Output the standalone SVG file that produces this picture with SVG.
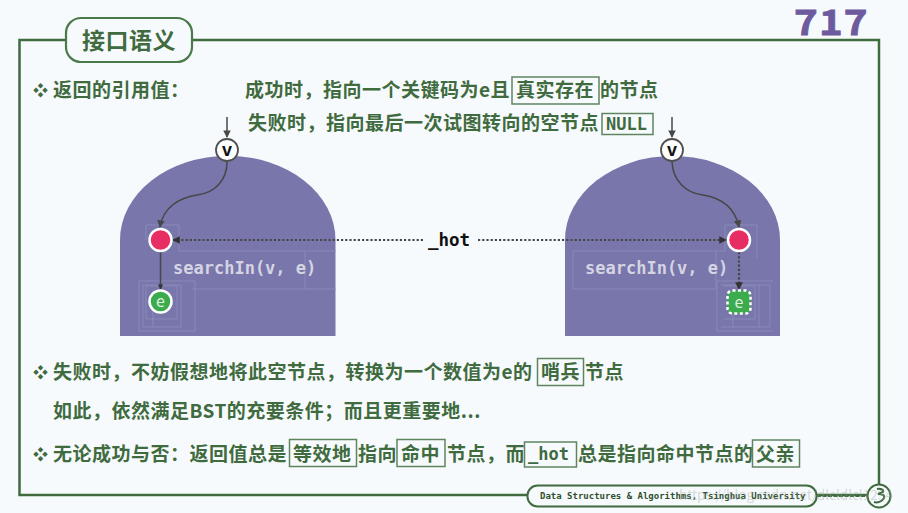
<svg xmlns="http://www.w3.org/2000/svg" width="908" height="513" viewBox="0 0 908 513">
<style>
text{font-family:"Noto Sans CJK SC","Liberation Sans",sans-serif}
.t{font-size:19px;font-weight:700;fill:#3f6b3f;letter-spacing:.5px}
.bul{font-size:15px;font-weight:700;fill:#3f6b3f}
.m{font-family:"DejaVu Sans Mono","Liberation Mono",monospace;font-weight:700}
.b{fill:none;stroke:#5f8560;stroke-width:1.5}
.blob{fill:#7876ab}
.f{fill:none;stroke:#9190bf;stroke-width:.8}
.e{fill:none;stroke:#474747;stroke-width:1.5}
.d{fill:none;stroke:#474747;stroke-width:2.200;stroke-dasharray:2.200 2}
.code{font-family:"DejaVu Sans Mono",monospace;font-size:17px;font-weight:700;fill:#d4d4e2}
.vt{font-family:"Liberation Sans",sans-serif;font-size:18px;font-weight:700;fill:#111;text-anchor:middle}
</style>
<defs>
<marker id="a" viewBox="0 0 8 8" refX="7" refY="4" markerWidth="5" markerHeight="5" markerUnits="strokeWidth" orient="auto"><path d="M0 0L8 4L0 8z" fill="#474747"/></marker>
<marker id="a2" viewBox="0 0 8 8" refX="7" refY="4" markerWidth="3.500" markerHeight="3.500" markerUnits="strokeWidth" orient="auto"><path d="M0 0L8 4L0 8z" fill="#333"/></marker>
</defs>
<rect width="908" height="513" fill="#f7fafc"/>
<g id="frame"><rect x="19.500" y="40" width="859.500" height="455" fill="none" stroke="#3f6b3f" stroke-width="2.500"/></g>
<g id="title"><rect x="66" y="18" width="126" height="44" rx="15" fill="#f7fafc" stroke="#4a7a4a" stroke-width="2.200"/><text x="82" y="49" font-size="23" font-weight="700" fill="#3f6b3f" letter-spacing=".5">接口语义</text></g>
<g id="page"><text transform="translate(794 35) scale(1.150 1)" font-family="Liberation Sans,sans-serif" font-size="35" font-weight="700" fill="#6e5b9e" stroke="#6e5b9e" stroke-width=".8" letter-spacing="1">717</text></g>

<g id="shape-left"><path class="blob" d="M120 336V240A107.500 84 0 0 1 335.500 240V336Z"/>
<path class="f" d="M146 240V225H179V251H336M305 251V289M192 289H336M139 281H195V331H139ZM143 285H181V327H143ZM146 286H177V319H146ZM153 290V327"/></g>
<g id="shape-right"><path class="blob" d="M565 336V240A107.500 84 0 0 1 780 240V336Z"/>
<path class="f" d="M573 251H725V225H757V258M573 251V289H716V251M717 281H773M717 281V331H773M721 285H770V327H721M724 286H755V319H724M733 300V327M759 285V327"/></g>

<g id="connectors">
<path class="e" d="M227 117V137" marker-end="url(#a)"/>
<path class="e" d="M672 117V137" marker-end="url(#a)"/>
<path class="e" d="M227 162C227 180 215 193 197 195C178 198 163 208 160 227" marker-end="url(#a)"/>
<path class="e" d="M672 162C673 180 685 193 703 195C722 198 735 208 739 227" marker-end="url(#a)"/>
<path class="e" d="M160.500 252V289" stroke-width="2" marker-end="url(#a2)"/>
<path class="d" d="M739 252V289" marker-end="url(#a2)"/>
<path class="d" d="M423 240H173" marker-end="url(#a2)"/>
<path class="d" d="M478 240H726" marker-end="url(#a2)"/>
</g>

<g id="node-v-left"><circle cx="227" cy="150" r="11" fill="#fff" stroke="#4f4f4f" stroke-width="1.800"/><text class="vt" x="227" y="156">v</text></g>
<g id="node-v-right"><circle cx="672" cy="150" r="11" fill="#fff" stroke="#4f4f4f" stroke-width="1.800"/><text class="vt" x="672" y="156">v</text></g>
<g id="node-red-left"><circle cx="160.500" cy="240" r="11" fill="#e72d63" stroke="#fff" stroke-width="2.500"/></g>
<g id="node-red-right"><circle cx="739" cy="240" r="11" fill="#e72d63" stroke="#fff" stroke-width="2.500"/></g>
<g id="node-e-left"><circle cx="160.500" cy="301.500" r="11" fill="#3cab4e" stroke="#fff" stroke-width="2.500"/><text x="160.500" y="307" font-family="DejaVu Sans Mono,monospace" font-size="16" fill="#dfeee0" text-anchor="middle">e</text></g>
<g id="node-e-right"><rect x="727.500" y="290.500" width="23" height="23" rx="5" fill="#3cab4e" stroke="#fff" stroke-width="2.500" stroke-dasharray="3 2.500"/><text x="739" y="308" font-family="DejaVu Sans Mono,monospace" font-size="16" fill="#dfeee0" text-anchor="middle">e</text></g>

<text class="code" x="173" y="274">searchIn(v, e)</text>
<text class="code" x="585" y="274">searchIn(v, e)</text>
<text class="m" x="428" y="246" font-size="17.500" fill="#111">_hot</text>

<g id="text-lines">
<text class="bul" x="33" y="96">❖</text>
<text class="t" x="53" y="97">返回的引用值：</text>
<text class="t" x="245" y="97">成功时，指向一个关键码为e且</text>
<rect class="b" x="512" y="77" width="87" height="27"/>
<text class="t" x="516" y="97">真实存在</text>
<text class="t" x="600" y="97">的节点</text>
<text class="t" x="248" y="130">失败时，指向最后一次试图转向的空节点</text>
<rect class="b" x="602" y="113.500" width="51" height="21"/>
<text class="m" x="606" y="130" font-size="17" fill="#3f6b3f">NULL</text>

<text class="bul" x="33" y="378">❖</text>
<text class="t" x="53" y="379">失败时，不妨假想地将此空节点，转换为一个数值为e的</text>
<rect class="b" x="537.500" y="358.500" width="46" height="27"/>
<text class="t" x="541" y="379">哨兵</text>
<text class="t" x="585" y="379">节点</text>
<text class="t" x="53" y="418">如此，依然满足BST的充要条件；而且更重要地...</text>

<text class="bul" x="33" y="460">❖</text>
<text class="t" x="53" y="461">无论成功与否：返回值总是</text>
<rect class="b" x="289.500" y="439.500" width="67" height="27"/>
<text class="t" x="293" y="461">等效地</text>
<text class="t" x="358" y="461">指向</text>
<rect class="b" x="397" y="439.500" width="48" height="27"/>
<text class="t" x="401" y="461">命中</text>
<text class="t" x="447" y="461">节点，而</text>
<rect class="b" x="524.500" y="442" width="52" height="25"/>
<text class="m" x="528" y="460" font-size="17" fill="#3f6b3f">_hot</text>
<text class="t" x="578" y="461">总是指向命中节点的</text>
<rect class="b" x="752.500" y="440" width="47" height="27"/>
<text class="t" x="756" y="461">父亲</text>
</g>

<g id="footer">
<rect x="527.500" y="485.500" width="289" height="21" rx="10" fill="#f7fafc" stroke="#3f6b3f" stroke-width="2"/>
<text class="m" x="540" y="499" font-size="9" fill="#2f4f2f">Data Structures &amp; Algorithms, Tsinghua University</text>
<path d="M817 496H868" fill="none" stroke="#3f6b3f" stroke-width="1.800" stroke-dasharray="4 1.500"/>
<circle cx="879" cy="496" r="11.500" fill="#f7fafc" stroke="#3f6b3f" stroke-width="2"/>
<path d="M877 489C881 488 884 490 883 492L878 494C882 494 885 495 884 498C882 502 877 503 874 502" fill="none" stroke="#3f6b3f" stroke-width="2"/>
<text x="679" y="500" font-size="13.500" font-family="Liberation Sans,sans-serif" fill="#9aa3a0" fill-opacity=".4">https://blog.csdn.net/dlcldlcl1234</text>
</g>
</svg>
